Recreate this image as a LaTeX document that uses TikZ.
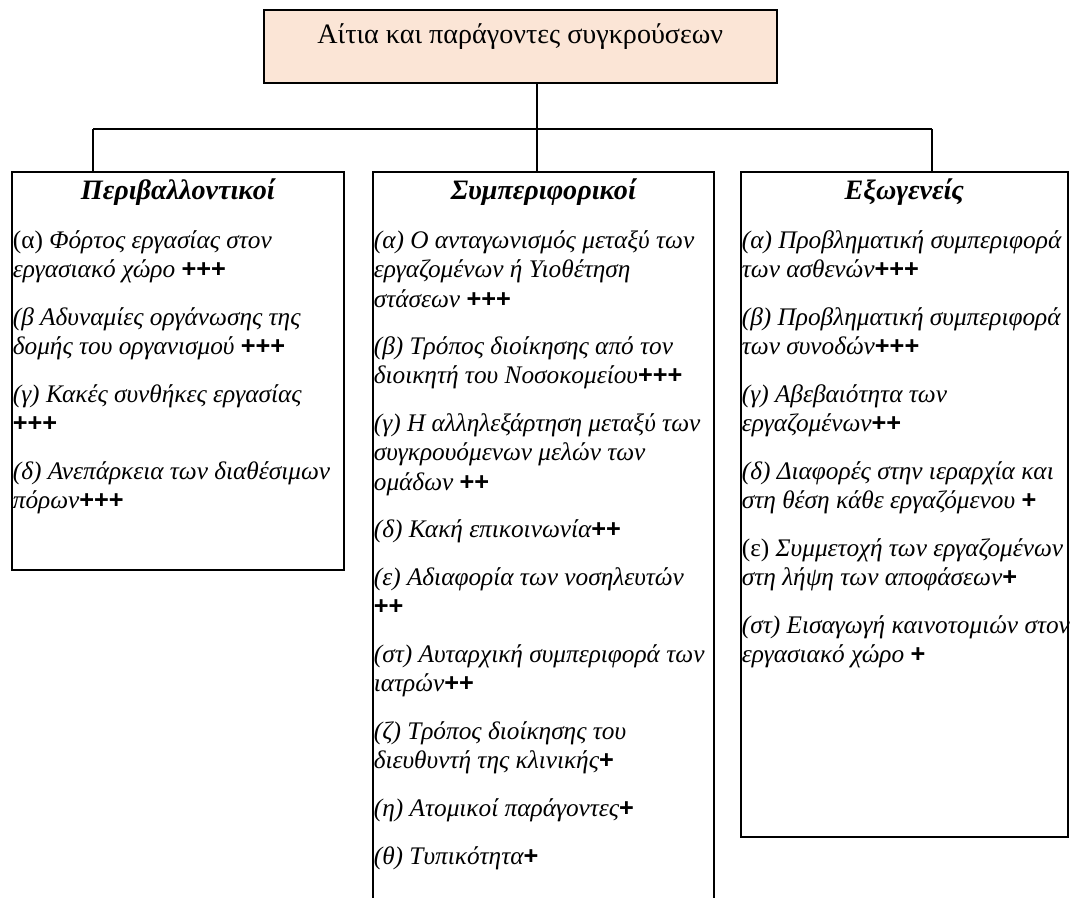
\documentclass[tikz,border=0pt]{standalone}
\usepackage{fontspec}
\setmainfont{Liberation Serif}
\newfontfamily\plusfont{Liberation Sans}
\usetikzlibrary{positioning}
\definecolor{peach}{RGB}{251,229,214}
\newcommand{\rating}[1]{{\plusfont\bfseries\upshape #1}}

\begin{document}
\begin{tikzpicture}[
    rootbox/.style={draw, line width=0.9pt, fill=peach, inner sep=0pt, anchor=north west},
    catbox/.style={draw, line width=0.9pt, inner sep=0pt, anchor=north west},
    cathead/.style={font=\fontsize{16}{19}\selectfont\bfseries\itshape, inner sep=0pt},
    itemtext/.style={font=\fontsize{14.4}{16.6}\selectfont\itshape, align=left,
        inner sep=0pt, anchor=north west},
    link/.style={line width=0.6pt}]
    \useasboundingbox (0,0) rectangle (21.52,17.96);
    \clip (0,0) rectangle (21.52,17.96);

    % top box
    \node[rootbox, minimum width=10.26cm, minimum height=1.46cm] (root) at (5.26,17.78) {};
    \node[font=\fontsize{16}{19}\selectfont, inner sep=0pt] (roottext)
        at ([yshift=0.19cm]root.center) {Αίτια και παράγοντες συγκρούσεων};

    % the three groups
    \node[catbox, minimum width=6.64cm, minimum height=7.96cm] (env) at (0.22,14.54) {};
    \node[catbox, minimum width=6.82cm, minimum height=15cm] (beh) at (7.44,14.54) {};
    \node[catbox, minimum width=6.54cm, minimum height=13.30cm] (ext) at (14.80,14.54) {};

    % tree lines
    \coordinate (bus) at (10.74,15.38);
    \coordinate (envdrop) at (1.86,15.38);
    \coordinate (extdrop) at (18.64,15.38);
    \draw[link] (root.south -| bus) -- (bus);
    \draw[link] (envdrop) -- (extdrop);
    \draw[link] (envdrop) -- (envdrop |- env.north);
    \draw[link] (bus) -- (bus |- beh.north);
    \draw[link] (extdrop) -- (extdrop |- ext.north);

    % headings
    \node[cathead, yshift=-0.42cm] (envhead) at (env.north) {Περιβαλλοντικοί};
    \node[cathead, yshift=-0.42cm] (behhead) at (beh.north) {Συμπεριφορικοί};
    \node[cathead, yshift=-0.42cm] (exthead) at (ext.north) {Εξωγενείς};

    % items
    \node[itemtext, xshift=0.03cm, yshift=-1.19cm] (envitems) at (env.north west) {%
        {\upshape(α)} Φόρτος εργασίας στον\\ εργασιακό χώρο \rating{+++}\\[10.6pt]
        (β Αδυναμίες οργάνωσης της\\ δομής του οργανισμού \rating{+++}\\[10.6pt]
        (γ) Κακές συνθήκες εργασίας\\ \rating{+++}\\[10.6pt]
        (δ) Ανεπάρκεια των διαθέσιμων\\ πόρων\rating{+++}};
    \node[itemtext, xshift=0.03cm, yshift=-1.19cm] (behitems) at (beh.north west) {%
        (α) Ο ανταγωνισμός μεταξύ των\\ εργαζομένων ή Υιοθέτηση\\ στάσεων \rating{+++}\\[10.6pt]
        (β) Τρόπος διοίκησης από τον\\ διοικητή του Νοσοκομείου\rating{+++}\\[10.6pt]
        (γ) Η αλληλεξάρτηση μεταξύ των\\ συγκρουόμενων μελών των\\ ομάδων \rating{++}\\[10.6pt]
        (δ) Κακή επικοινωνία\rating{++}\\[10.6pt]
        (ε) Αδιαφορία των νοσηλευτών\\ \rating{++}\\[10.6pt]
        (στ) Αυταρχική συμπεριφορά των\\ ιατρών\rating{++}\\[10.6pt]
        (ζ) Τρόπος διοίκησης του\\ διευθυντή της κλινικής\rating{+}\\[10.6pt]
        (η) Ατομικοί παράγοντες\rating{+}\\[10.6pt]
        (θ) Τυπικότητα\rating{+}};
    \node[itemtext, xshift=0.03cm, yshift=-1.19cm] (extitems) at (ext.north west) {%
        (α) Προβληματική συμπεριφορά\\ των ασθενών\rating{+++}\\[10.6pt]
        (β) Προβληματική συμπεριφορά\\ των συνοδών\rating{+++}\\[10.6pt]
        (γ) Αβεβαιότητα των\\ εργαζομένων\rating{++}\\[10.6pt]
        (δ) Διαφορές στην ιεραρχία και\\ στη θέση κάθε εργαζόμενου \rating{+}\\[10.6pt]
        {\upshape(ε)} Συμμετοχή των εργαζομένων\\ στη λήψη των αποφάσεων\rating{+}\\[10.6pt]
        (στ) Εισαγωγή καινοτομιών στον\\ εργασιακό χώρο \rating{+}};
\end{tikzpicture}
\end{document}
